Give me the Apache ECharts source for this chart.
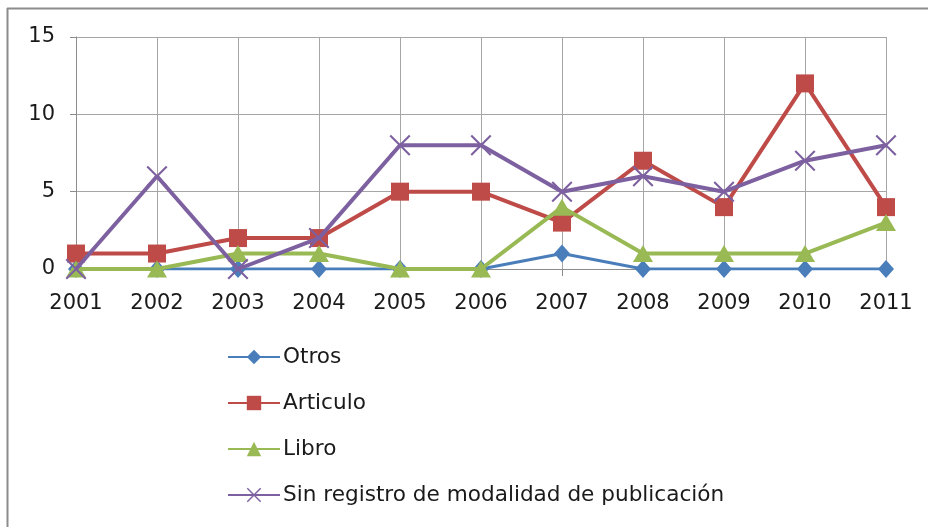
<!DOCTYPE html>
<html><head><meta charset="utf-8">
<script src="https://cdn.jsdelivr.net/npm/echarts@6/dist/echarts.min.js"></script>
<style>html,body{margin:0;padding:0;background:#fff}#c{width:928px;height:527px}</style>
</head><body><div id="c"></div>
<script>
var categories = ['2001','2002','2003','2004','2005','2006','2007','2008','2009','2010','2011'];
var otros = [0,0,0,0,0,0,1,0,0,0,0];
var articulo = [1,1,2,2,5,5,3,7,4,12,4];
var libro = [0,0,1,1,0,0,4,1,1,1,3];
var sinRegistro = [0,6,0,2,8,8,5,6,5,7,8];
var seriesNames = ['Otros','Articulo','Libro','Sin registro de modalidad de publicación'];
var yTicks = {min:0, max:15, interval:5};

var FONT = 'DejaVu Sans';
var xPath = 'path://M0,1.4L1.4,0L10,8.6L18.6,0L20,1.4L11.4,10L20,18.6L18.6,20L10,11.4L1.4,20L0,18.6L8.6,10Z';
var chart = echarts.init(document.getElementById('c'), null, {renderer:'canvas'});
chart.setOption({
  animation:false,
  backgroundColor:'#fff',
  graphic:[
    {type:'line', shape:{x1:7,y1:8.5,x2:940,y2:8.5}, style:{stroke:'#8c8c8c',lineWidth:2}},
    {type:'line', shape:{x1:7.5,y1:8,x2:7.5,y2:540}, style:{stroke:'#8c8c8c',lineWidth:2}}
  ],
  grid:{left:76, right:42, top:37, bottom:258, containLabel:false},
  legend:{
    orient:'vertical', left:222, top:341,
    itemWidth:52, itemHeight:18, itemGap:24,
    textStyle:{fontFamily:FONT, fontSize:21.6, lineHeight:22, color:'#1a1a1a', padding:[0,0,0,-2]},
    data:seriesNames
  },
  xAxis:{
    type:'category', data:categories, boundaryGap:false,
    axisLine:{lineStyle:{color:'#8c8c8c',width:1}},
    axisTick:{show:true, length:7, lineStyle:{color:'#8c8c8c'}},
    axisLabel:{fontFamily:FONT, fontSize:21, color:'#1a1a1a', margin:24},
    splitLine:{show:true, lineStyle:{color:'#a6a6a6',width:1}}
  },
  yAxis:{
    type:'value', min:yTicks.min, max:yTicks.max, interval:yTicks.interval,
    axisLine:{show:true, lineStyle:{color:'#8c8c8c',width:1}},
    axisTick:{show:true, length:6, lineStyle:{color:'#8c8c8c'}},
    axisLabel:{fontFamily:FONT, fontSize:21, color:'#1a1a1a', margin:21},
    splitLine:{show:true, lineStyle:{color:'#a6a6a6',width:1}}
  },
  series:[
    {name:seriesNames[0], type:'line', data:otros, symbol:'diamond', symbolSize:[16,18],
     itemStyle:{color:'#4a7ebb'}, lineStyle:{color:'#4a7ebb', width:3}, z:2},
    {name:seriesNames[1], type:'line', data:articulo, symbol:'rect', symbolSize:18,
     itemStyle:{color:'#be4b48'}, lineStyle:{color:'#be4b48', width:4}, z:3},
    {name:seriesNames[2], type:'line', data:libro, symbol:'triangle', symbolSize:[20,17],
     itemStyle:{color:'#98b954'}, lineStyle:{color:'#98b954', width:4}, z:4},
    {name:seriesNames[3], type:'line', data:sinRegistro, symbol:xPath, symbolSize:21,
     itemStyle:{color:'#7d60a0'}, lineStyle:{color:'#7d60a0', width:4}, z:5}
  ]
});
</script></body></html>
